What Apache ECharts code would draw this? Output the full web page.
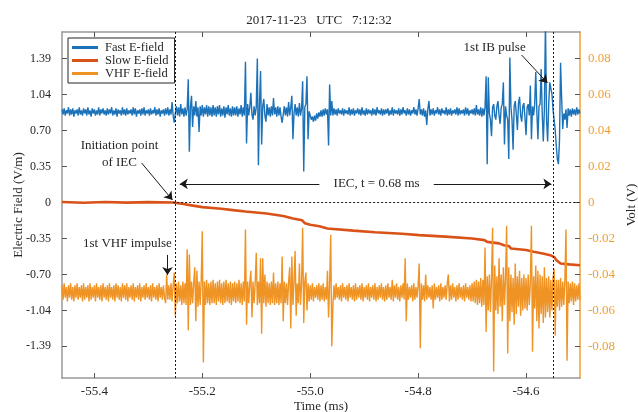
<!DOCTYPE html>
<html><head><meta charset="utf-8">
<script src="https://cdn.jsdelivr.net/npm/echarts@6/dist/echarts.min.js"></script>
<style>html,body{margin:0;padding:0;background:#fff}#c{width:638px;height:412px}</style>
</head><body><div id="c"></div>
<script>
// sample clock of the digitised records (ms)
const sampleStart = -55.46, sampleStep = 0.002;

// Fast E-field (V/m), one value per sample
const fastField = [
0.90,0.85,0.91,0.84,0.89,0.86,0.92,0.84,0.90,0.85,0.91,0.83,0.89,0.86,0.90,0.84,0.92,0.85,0.89,0.84,
0.91,0.86,0.90,0.84,0.92,0.85,0.89,0.83,0.91,0.86,0.90,0.84,0.89,0.85,0.92,0.84,0.90,0.86,0.91,0.85,
0.89,0.84,0.91,0.85,0.90,0.86,0.92,0.84,0.89,0.85,0.91,0.83,0.90,0.86,0.89,0.84,0.92,0.85,0.90,0.84,
0.91,0.85,0.89,0.86,0.90,0.84,0.92,0.85,0.91,0.83,0.89,0.86,0.90,0.84,0.91,0.85,0.92,0.84,0.89,0.86,
0.90,0.84,0.91,0.85,0.89,0.86,0.92,0.84,0.90,0.85,0.91,0.83,0.89,0.86,0.90,0.84,0.91,0.85,0.92,0.84,
0.90,0.85,0.97,0.84,0.77,0.86,0.93,0.84,0.92,0.83,0.95,0.85,0.91,0.83,0.92,0.84,0.90,1.19,0.49,0.92,
1.03,0.73,0.93,0.84,0.98,0.83,0.92,0.68,0.93,0.84,0.94,0.83,0.92,0.85,0.94,0.83,0.93,0.84,0.92,0.83,
0.94,0.84,0.92,0.83,0.93,0.85,0.94,0.83,0.91,0.84,0.93,0.82,0.92,0.85,0.94,0.84,0.91,0.83,0.93,0.84,
0.92,0.84,0.93,0.83,0.91,0.85,0.94,0.83,0.92,0.84,1.36,0.57,0.95,0.84,0.92,1.06,0.85,0.80,0.93,0.84,
0.92,1.39,0.36,0.95,1.27,0.56,0.93,1.00,0.84,0.78,0.95,0.84,0.92,0.83,0.93,0.84,1.01,0.85,0.92,0.83,
0.93,0.84,0.92,0.83,0.77,0.85,0.93,0.84,0.92,0.83,0.97,0.84,0.92,1.03,0.61,0.86,0.95,0.84,0.92,0.83,
0.96,0.84,0.91,1.17,0.30,0.92,0.95,1.22,0.61,0.88,0.84,0.80,0.83,0.78,0.84,0.79,0.86,0.81,0.87,0.83,
0.89,0.83,0.90,0.84,0.91,0.85,0.90,0.55,1.14,0.84,0.98,0.84,0.91,0.85,0.90,0.84,0.91,0.86,0.89,0.85,
0.91,0.84,0.90,0.86,0.89,0.85,0.92,0.84,0.90,0.85,0.91,0.84,0.89,0.86,0.91,0.85,0.90,0.84,0.92,0.85,
0.89,0.84,0.91,0.85,0.90,0.86,0.89,0.84,0.91,0.85,0.90,0.84,0.92,0.86,0.89,0.85,0.91,0.84,0.90,0.85,
0.90,0.86,0.91,0.84,0.89,0.85,0.92,0.84,0.90,0.86,0.89,0.85,0.91,0.84,0.90,0.85,0.92,0.86,0.89,0.84,
0.91,0.85,0.90,0.84,0.89,0.86,0.92,0.85,0.90,0.84,0.91,1.00,0.85,0.90,0.84,0.91,0.83,0.89,0.75,0.90,
0.98,0.84,0.90,0.85,0.91,0.84,0.89,0.86,0.92,0.85,0.90,0.84,0.91,0.86,0.89,0.85,0.92,0.84,0.90,0.85,
0.91,0.84,0.89,0.86,0.90,0.85,0.92,0.84,0.91,0.85,0.89,0.86,0.90,0.84,0.92,0.85,0.91,0.84,0.89,0.86,
0.90,0.85,0.91,0.84,0.94,0.85,0.90,0.84,0.92,0.83,0.91,0.84,0.92,1.22,0.37,1.21,0.86,0.80,0.64,0.92,
0.95,0.84,0.80,0.93,0.98,0.84,0.76,0.92,0.95,1.16,0.56,0.93,0.84,0.80,0.42,1.40,0.92,0.80,0.51,0.93,
0.98,0.85,0.70,0.96,1.02,0.84,0.78,0.93,0.96,0.82,0.65,0.92,0.95,0.84,1.13,0.61,0.93,0.84,0.95,1.26,
0.88,0.61,0.93,0.95,1.29,0.86,0.59,0.90,1.75,0.80,0.59,0.95,1.16,1.10,1.05,0.90,0.80,0.70,0.55,0.42,
0.37,0.60,1.35,1.00,0.71,0.86,0.80,0.90,0.72,0.91,0.84,0.90,0.83,0.91,0.85,0.90,0.84,0.92,0.85,0.90,
0.86];

// VHF E-field (V), one value per sample
const vhfField = [
-0.046,-0.054,-0.045,-0.053,-0.047,-0.055,-0.046,-0.053,-0.045,-0.054,-0.047,-0.055,-0.046,-0.053,-0.045,-0.054,-0.047,-0.053,-0.046,-0.055,
-0.045,-0.054,-0.047,-0.053,-0.046,-0.055,-0.045,-0.054,-0.047,-0.053,-0.046,-0.055,-0.045,-0.053,-0.047,-0.054,-0.046,-0.055,-0.045,-0.053,
-0.047,-0.054,-0.046,-0.055,-0.045,-0.053,-0.047,-0.054,-0.046,-0.055,-0.045,-0.053,-0.046,-0.054,-0.047,-0.055,-0.045,-0.053,-0.046,-0.054,
-0.045,-0.055,-0.047,-0.053,-0.046,-0.054,-0.045,-0.055,-0.047,-0.053,-0.046,-0.054,-0.045,-0.055,-0.047,-0.053,-0.046,-0.054,-0.045,-0.053,
-0.047,-0.054,-0.046,-0.055,-0.045,-0.053,-0.047,-0.054,-0.046,-0.055,-0.045,-0.053,-0.047,-0.054,-0.046,-0.053,-0.056,-0.040,-0.054,-0.046,
-0.054,-0.045,-0.055,-0.046,-0.039,-0.063,-0.045,-0.056,-0.044,-0.055,-0.046,-0.057,-0.044,-0.056,-0.045,-0.057,-0.026,-0.071,-0.029,-0.057,
-0.044,-0.056,-0.045,-0.036,-0.066,-0.038,-0.058,-0.044,-0.057,-0.043,-0.016,-0.089,-0.044,-0.057,-0.043,-0.056,-0.045,-0.057,-0.044,-0.056,
-0.043,-0.056,-0.045,-0.057,-0.044,-0.055,-0.043,-0.056,-0.045,-0.057,-0.044,-0.056,-0.043,-0.055,-0.045,-0.056,-0.044,-0.057,-0.045,-0.055,
-0.044,-0.056,-0.045,-0.055,-0.043,-0.056,-0.045,-0.057,-0.044,-0.055,-0.015,-0.068,-0.044,-0.056,-0.045,-0.038,-0.064,-0.044,-0.056,-0.045,
-0.028,-0.057,-0.044,-0.056,-0.031,-0.073,-0.031,-0.056,-0.040,-0.058,-0.044,-0.056,-0.045,-0.057,-0.044,-0.056,-0.039,-0.057,-0.045,-0.056,
-0.044,-0.057,-0.045,-0.056,-0.030,-0.066,-0.044,-0.056,-0.045,-0.057,-0.044,-0.036,-0.070,-0.030,-0.057,-0.044,-0.027,-0.063,-0.045,-0.056,
-0.034,-0.057,-0.045,-0.014,-0.067,-0.044,-0.039,-0.060,-0.045,-0.055,-0.046,-0.054,-0.045,-0.055,-0.047,-0.053,-0.046,-0.054,-0.045,-0.055,
-0.046,-0.054,-0.045,-0.055,-0.047,-0.054,-0.038,-0.064,-0.045,-0.018,-0.080,-0.058,-0.046,-0.054,-0.045,-0.053,-0.047,-0.054,-0.046,-0.055,
-0.045,-0.053,-0.047,-0.054,-0.046,-0.055,-0.045,-0.053,-0.047,-0.054,-0.046,-0.055,-0.045,-0.054,-0.047,-0.053,-0.046,-0.054,-0.045,-0.055,
-0.047,-0.053,-0.046,-0.054,-0.045,-0.055,-0.047,-0.053,-0.046,-0.054,-0.045,-0.055,-0.047,-0.054,-0.046,-0.053,-0.045,-0.054,-0.047,-0.055,
-0.046,-0.054,-0.045,-0.053,-0.047,-0.054,-0.043,-0.055,-0.046,-0.053,-0.045,-0.054,-0.047,-0.055,-0.046,-0.053,-0.045,-0.054,-0.031,-0.066,
-0.045,-0.054,-0.047,-0.053,-0.046,-0.055,-0.045,-0.054,-0.047,-0.053,-0.046,-0.034,-0.081,-0.045,-0.054,-0.046,-0.055,-0.040,-0.054,-0.046,
-0.053,-0.047,-0.054,-0.046,-0.059,-0.045,-0.054,-0.047,-0.053,-0.046,-0.055,-0.045,-0.054,-0.047,-0.053,-0.046,-0.054,-0.045,-0.040,-0.055,
-0.046,-0.054,-0.045,-0.053,-0.047,-0.055,-0.046,-0.054,-0.045,-0.053,-0.047,-0.054,-0.046,-0.055,-0.045,-0.053,-0.047,-0.054,-0.046,-0.055,
-0.045,-0.055,-0.044,-0.056,-0.043,-0.057,-0.044,-0.056,-0.042,-0.058,-0.043,-0.057,-0.025,-0.072,-0.041,-0.060,-0.040,-0.061,-0.042,-0.014,
-0.094,-0.035,-0.060,-0.041,-0.062,-0.031,-0.058,-0.040,-0.066,-0.036,-0.057,-0.042,-0.013,-0.084,-0.036,-0.066,-0.040,-0.061,-0.042,-0.068,
-0.034,-0.062,-0.041,-0.058,-0.038,-0.063,-0.042,-0.060,-0.040,-0.059,-0.042,-0.060,-0.040,-0.057,-0.044,-0.013,-0.083,-0.041,-0.059,-0.035,
-0.066,-0.038,-0.070,-0.040,-0.062,-0.041,-0.067,-0.036,-0.064,-0.042,-0.061,-0.041,-0.064,-0.043,-0.060,-0.042,-0.037,-0.074,-0.043,-0.058,
-0.043,-0.060,-0.042,-0.058,-0.044,-0.057,-0.043,-0.015,-0.088,-0.044,-0.056,-0.045,-0.055,-0.044,-0.057,-0.045,-0.055,-0.046,-0.054,-0.045,
-0.054];

// Slow E-field (V/m) at its own read-off times (ms)
const slowTimes = [-55.46,-55.42,-55.38,-55.34,-55.30,-55.254,-55.235,-55.223,-55.20,-55.165,-55.143,-55.12,-55.081,-55.05,-55.032,-55.015,-55.010,-55.0,-54.983,-54.968,-54.92,-54.88,-54.83,-54.798,-54.75,-54.70,-54.677,-54.672,-54.65,-54.641,-54.632,-54.628,-54.60,-54.586,-54.567,-54.555,-54.547,-54.544,-54.536,-54.52,-54.50];
const slowField = [0.004,-0.003,0.004,-0.002,0.003,0.0,-0.015,-0.026,-0.045,-0.060,-0.074,-0.088,-0.106,-0.130,-0.155,-0.172,-0.200,-0.215,-0.230,-0.251,-0.272,-0.288,-0.303,-0.316,-0.330,-0.348,-0.364,-0.381,-0.395,-0.413,-0.420,-0.444,-0.460,-0.477,-0.495,-0.509,-0.530,-0.557,-0.589,-0.598,-0.606];

// Ticks
const xTickValues = [-55.4,-55.2,-55.0,-54.8,-54.6];
const xTickLabels = ['-55.4','-55.2','-55.0','-54.8','-54.6'];
const leftTickValues = [-1.39,-1.0425,-0.695,-0.3475,0,0.3475,0.695,1.0425,1.39];
const leftTickLabels = ['-1.39','-1.04','-0.70','-0.35','0','0.35','0.70','1.04','1.39'];
const rightTickValues = [-0.08,-0.06,-0.04,-0.02,0,0.02,0.04,0.06,0.08];
const rightTickLabels = ['-0.08','-0.06','-0.04','-0.02','0','0.02','0.04','0.06','0.08'];

// Event markers (ms)
const initiationTime = -55.254;
const ibTime = -54.545;

// Annotation arrows in data coordinates [t, V/m]
const arrows = [
  [[-55.3125, 0.382], [-55.2553, 0.024]],
  [[-54.6083, 1.425], [-54.5603, 1.155]],
  [[-54.983, 0.179], [-55.2417, 0.179]],
  [[-54.771, 0.179], [-54.553, 0.179]],
  [[-55.2645, -0.507], [-55.2645, -0.700]]
];
const annotations = [
  {text: 'Initiation point\nof IEC', t: -55.3535, v: 0.464},
  {text: '1st IB pulse', t: -54.6582, v: 1.498},
  {text: 'IEC, t = 0.68 ms', t: -54.877, v: 0.179},
  {text: '1st VHF impulse', t: -55.3387, v: -0.401}
];

const FONT = "'Liberation Serif','Times New Roman',serif";
const TXT = '#262626';
const AX = '#999999';
const BLUE = '#1C72B8', RED = '#D95319', ORANGE = '#EF9324', RAXIS = '#F0A030';

function lookup(vals, labels) {
  return v => { for (let i = 0; i < vals.length; i++) if (Math.abs(v - vals[i]) < 1e-6) return labels[i]; return ''; };
}

const fastData = fastField.map((v, i) => [+(sampleStart + i * sampleStep).toFixed(4), v]);
const vhfData = vhfField.map((v, i) => [+(sampleStart + i * sampleStep).toFixed(4), v]);
const slowData = slowTimes.map((t, i) => [t, slowField[i]]);

const chart = echarts.init(document.getElementById('c'), null, {renderer: 'canvas'});
const xCommon = {
  type: 'value', min: -55.46, max: -54.50,
  axisLine: {show: true, onZero: false, lineStyle: {color: AX, width: 1.5}},
  axisTick: {show: true, inside: true, length: 5, customValues: xTickValues, lineStyle: {color: '#555'}},
  splitLine: {show: false}
};
const option = {
  animation: false,
  backgroundColor: '#fff',
  title: {text: '2017-11-23   UTC   7:12:32', left: 'center', top: 9,
    textStyle: {fontFamily: FONT, fontSize: 13, fontWeight: 'normal', color: TXT}},
  grid: {left: 62, right: 58, top: 32, bottom: 34, outerBoundsMode: 'none', containLabel: false},
  legend: {
    orient: 'vertical', left: 68, top: 38, padding: [3, 6, 3, 4], itemGap: 0,
    itemWidth: 26, itemHeight: 3, icon: 'rect',
    borderColor: '#262626', borderWidth: 1, backgroundColor: '#fff',
    textStyle: {fontFamily: FONT, fontSize: 12.5, color: TXT, padding: [0, 0, 0, 2]},
    data: ['Fast E-field', 'Slow E-field', 'VHF E-field']
  },
  xAxis: [
    Object.assign({}, xCommon, {
      position: 'bottom', name: 'Time (ms)', nameLocation: 'middle', nameGap: 22, nameMoveOverlap: false,
      nameTextStyle: {fontFamily: FONT, fontSize: 13, color: TXT},
      axisLabel: {customValues: xTickValues, formatter: lookup(xTickValues, xTickLabels), margin: 7,
        fontFamily: FONT, fontSize: 13, color: TXT}
    }),
    Object.assign({}, xCommon, {position: 'top', axisLabel: {show: false}})
  ],
  yAxis: [
    {type: 'value', min: -1.696, max: 1.647, position: 'left',
      name: 'Electric Field (V/m)', nameLocation: 'middle', nameGap: 37, nameMoveOverlap: false,
      nameTextStyle: {fontFamily: FONT, fontSize: 13, color: TXT},
      axisLine: {show: true, onZero: false, lineStyle: {color: AX, width: 1.5}},
      axisTick: {show: true, inside: true, length: 5, customValues: leftTickValues, lineStyle: {color: '#555'}},
      axisLabel: {customValues: leftTickValues, formatter: lookup(leftTickValues, leftTickLabels), margin: 11,
        fontFamily: FONT, fontSize: 12, color: TXT},
      splitLine: {show: false}},
    {type: 'value', min: -0.0976, max: 0.0948, position: 'right',
      name: 'Volt (V)', nameLocation: 'middle', nameGap: 45, nameMoveOverlap: false,
      nameTextStyle: {fontFamily: FONT, fontSize: 13, color: TXT},
      axisLine: {show: true, onZero: false, lineStyle: {color: RAXIS, width: 1.5}},
      axisTick: {show: true, inside: true, length: 5, customValues: rightTickValues, lineStyle: {color: '#555'}},
      axisLabel: {customValues: rightTickValues, formatter: lookup(rightTickValues, rightTickLabels), margin: 8,
        fontFamily: FONT, fontSize: 13, color: RAXIS},
      splitLine: {show: false}}
  ],
  series: [
    {name: 'Fast E-field', type: 'line', xAxisIndex: 0, yAxisIndex: 0, data: fastData,
      showSymbol: false, symbol: 'none', sampling: 'none', itemStyle: {color: BLUE},
      lineStyle: {color: BLUE, width: 1.4}, z: 2},
    {name: 'Slow E-field', type: 'line', xAxisIndex: 0, yAxisIndex: 0, data: slowData,
      showSymbol: false, symbol: 'none', itemStyle: {color: RED},
      lineStyle: {color: RED, width: 2.6}, z: 2},
    {name: 'VHF E-field', type: 'line', xAxisIndex: 0, yAxisIndex: 1, data: vhfData,
      showSymbol: false, symbol: 'none', sampling: 'none', itemStyle: {color: ORANGE},
      lineStyle: {color: ORANGE, width: 1.4}, z: 2},
    {name: 'markers', type: 'line', xAxisIndex: 0, yAxisIndex: 0, data: [], z: 5,
      markLine: {silent: true, animation: false, symbol: ['none', 'none'], label: {show: false},
        lineStyle: {color: '#1a1a1a', type: [2, 2], width: 1},
        data: [{xAxis: initiationTime}, {xAxis: ibTime},
          [{coord: [initiationTime, 0]}, {coord: [-54.50, 0]}]]}},
    {name: 'arrows', type: 'line', xAxisIndex: 0, yAxisIndex: 0, data: [], z: 6,
      markLine: {silent: true, animation: false, symbol: ['none', 'arrow'], symbolSize: 8,
        label: {show: false}, lineStyle: {color: '#1a1a1a', type: 'solid', width: 1},
        itemStyle: {color: '#1a1a1a'},
        data: arrows.map(a => [{coord: a[0]}, {coord: a[1]}])}}
  ]
};
chart.setOption(option);

const graphics = annotations.map(a => {
  const p = chart.convertToPixel({xAxisIndex: 0, yAxisIndex: 0}, [a.t, a.v]);
  return {type: 'text', x: p[0], y: p[1], z: 10,
    style: {text: a.text, align: 'center', verticalAlign: 'middle', fontFamily: FONT, fontSize: 13,
      lineHeight: 17, fill: TXT}};
});
chart.setOption({graphic: graphics});
</script>
</body></html>
